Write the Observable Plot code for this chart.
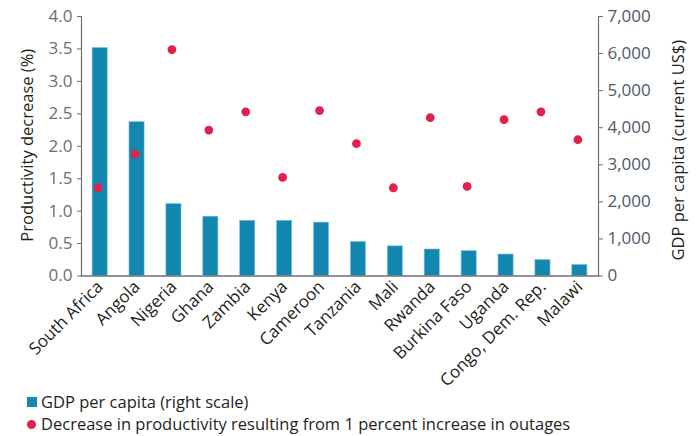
<!DOCTYPE html>
<html>
<head>
<meta charset="utf-8">
<script src="https://cdn.jsdelivr.net/npm/d3@7"></script>
<script src="https://cdn.jsdelivr.net/npm/@observablehq/plot@0.6"></script>
<style>
  body { margin: 0; background: #fff; font-family: "Open Sans", sans-serif; }
  #chart svg { display: block; }
  .legend { position: relative; height: 46px; font-size: 16.5px; color: #231f20; }
  .legend .row { position: absolute; left: 27px; display: flex; align-items: center; white-space: nowrap; line-height: 20px; }
  .legend .sw { width: 10px; height: 10px; background: #1287b0; margin-right: 4px; }
  .legend .dot { width: 9px; height: 9px; border-radius: 50%; background: #e0234e; margin-right: 5px; }
</style>
</head>
<body>
<div id="chart"></div>
<div class="legend">
  <div class="row" style="top:2px"><span class="sw"></span><span>GDP per capita (right scale)</span></div>
  <div class="row" style="top:24px"><span class="dot"></span><span>Decrease in productivity resulting from 1 percent increase in outages</span></div>
</div>
<script>
const countries = ["South Africa","Angola","Nigeria","Ghana","Zambia","Kenya","Cameroon","Tanzania","Mali","Rwanda","Burkina Faso","Uganda","Congo, Dem. Rep.","Malawi"];
const gdpPerCapita = [6150, 4150, 1940, 1600, 1490, 1490, 1440, 920, 800, 715, 670, 580, 430, 300];
const productivityDecrease = [1.36, 1.88, 3.49, 2.25, 2.53, 1.52, 2.55, 2.04, 1.36, 2.44, 1.38, 2.41, 2.53, 2.10];
const leftTicks = [0, 0.5, 1, 1.5, 2, 2.5, 3, 3.5, 4];
const rightTicks = [0, 1000, 2000, 3000, 4000, 5000, 6000, 7000];

const ratio = 7000 / 4; // right scale units per left unit
const data = countries.map((c, i) => ({country: c, gdp: gdpPerCapita[i], prod: productivityDecrease[i]}));

const gray = "#6d6e71";
const chart = Plot.plot({
  width: 700,
  height: 390,
  marginTop: 16,
  marginBottom: 114.5,
  marginLeft: 81,
  marginRight: 102,
  style: {fontFamily: "'Open Sans', sans-serif", fontSize: "17px", color: "#231f20", background: "#fff"},
  x: {domain: countries, paddingInner: 0.59, paddingOuter: 0.3, round: false},
  y: {domain: [0, 4]},
  marks: [
    Plot.barY(data, {x: "country", y: d => d.gdp / ratio, fill: "#1287b0", stroke: "#7fc3dc", strokeWidth: 0.6}),
    Plot.dot(data, {x: "country", y: "prod", r: 4.4, dx: -2, fill: "#e0234e"}),
    Plot.axisY(leftTicks, {anchor: "left", tickFormat: d3.format(".1f"), tickSize: 4, stroke: gray, fill: "#6d6e71", fontSize: 17, tickPadding: 5, label: null}),
    Plot.axisY(rightTicks.map(v => v / ratio), {anchor: "right", tickFormat: d => d3.format(",")(Math.round(d * ratio)), tickSize: 4, stroke: gray, fill: "#4f5867", fontSize: 17, tickPadding: 5, label: null}),
    Plot.text(["Productivity decrease (%)"], {frameAnchor: "left", textAnchor: "middle", dx: -54, dy: -1, rotate: -90, fontSize: 16.5, fill: "#231f20", text: d => d}),
    Plot.text(["GDP per capita (current US$)"], {frameAnchor: "right", textAnchor: "middle", dx: 80, dy: 4, rotate: -90, fontSize: 16.5, fill: "#231f20", text: d => d}),
    Plot.axisX({tickRotate: -45, tickSize: 0, tickPadding: 8, fontSize: 17, fill: "#231f20", label: null}),
    Plot.frame({anchor: "left", stroke: gray, strokeWidth: 1.2}),
    Plot.frame({anchor: "right", stroke: gray, strokeWidth: 1.2}),
    Plot.frame({anchor: "bottom", stroke: gray, strokeWidth: 1.5})
  ]
});
document.getElementById("chart").append(chart);
</script>
</body>
</html>
